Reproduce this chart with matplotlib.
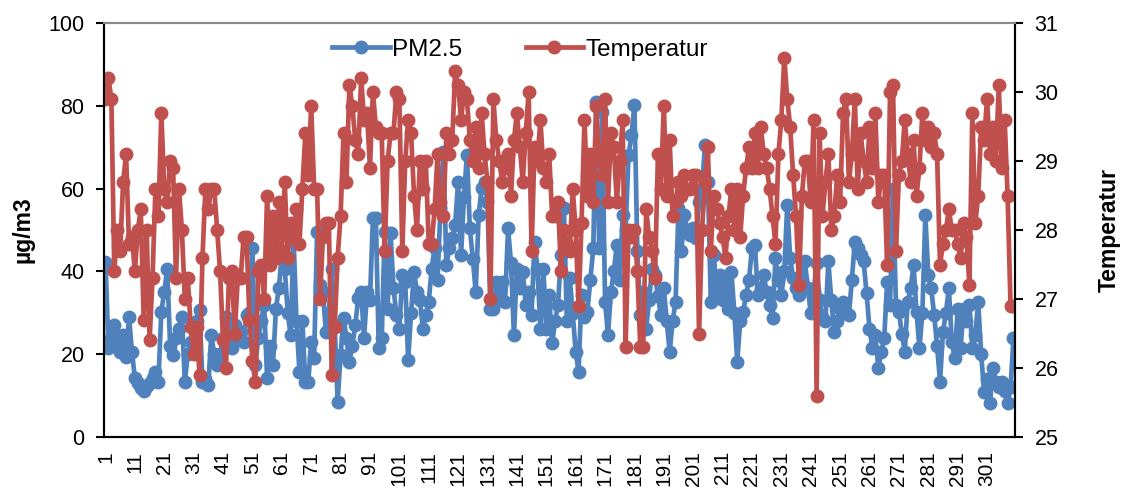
import numpy as np
import matplotlib.pyplot as plt

plt.rcParams['font.family'] = ['Liberation Sans', 'DejaVu Sans']

# PM2.5 (left axis, ug/m3), one value per day
pm25 = [42.3, 21.4, 24, 27, 23, 20.6, 24.6, 19.4, 29, 20.6,
        14.2, 13, 11.8, 11, 12.2, 13, 14.2, 15.8, 13.4, 30.3,
        35, 40.7, 22, 19.8, 24, 26.2, 29, 13.4, 20, 23,
        26.2, 28, 30.7, 13.4, 14, 12.6, 24.6, 20, 17.4, 20,
        23.8, 29, 25, 21.4, 27, 24, 25.4, 23, 29.5, 30,
        45.6, 17.4, 24, 28, 31.9, 14.2, 22, 17.4, 31, 36,
        44, 40.7, 30, 24.6, 48, 28, 15.8, 27.9, 13.4, 13.4,
        23, 19, 49.6, 36.7, 35, 25.4, 30, 40.7, 27, 8.5,
        19.8, 28.7, 24, 18.2, 22, 27, 33.5, 35.1, 24, 35.1,
        33, 52.8, 52.8, 21.4, 23.8, 49.6, 31, 49.2, 36, 29.5,
        26.2, 39.1, 37.5, 18.6, 30, 39.9, 35.1, 33, 26.2, 29.5,
        32.7, 40.7, 45.6, 38, 55.2, 68.9, 41.5, 45.6, 48, 51.2,
        61.7, 44, 58, 68.1, 50.4, 43, 35.1, 53.6, 60.1, 61.7,
        56.8, 31, 31, 37.5, 33, 37.5, 32.7, 50.4, 42, 24.6,
        40.7, 36, 39.9, 31.9, 35, 29.5, 47.2, 40.7, 26.2, 40.7,
        26.2, 34.3, 22.6, 28, 31.9, 44, 55.2, 27.9, 38.3, 30,
        20.6, 15.8, 34.3, 29, 30.3, 38, 45.6, 81, 45.6, 78.6,
        32.7, 24.6, 35.1, 40, 46.4, 38, 53.6, 50, 68.1, 72.9,
        80.2, 45, 29.5, 35, 26.2, 33, 40.7, 39.1, 34, 29.5,
        35.9, 27.9, 20.6, 28, 32.7, 55.2, 45, 53.6, 50, 48.8,
        50.4, 48, 56.8, 60, 70.5, 61.7, 32.7, 44, 35, 39.1,
        33, 37.5, 31, 39.9, 30, 18.2, 28, 30.3, 34.3, 38,
        45.6, 46.4, 34.3, 36, 39.1, 35, 31.9, 28.7, 43.2, 38,
        34.3, 40, 56, 43.2, 38.3, 36, 34.3, 38, 42.4, 36,
        30, 35, 42, 33, 29, 27.9, 42.4, 33, 25.4, 28,
        31, 32.7, 30, 29.5, 38, 47.2, 45.6, 44, 42.4, 34.7,
        26.2, 21.4, 24.6, 16.6, 20.6, 23.8, 37.5, 31.9, 60, 31.9,
        30.3, 25, 20.6, 32.7, 36, 41.5, 30.3, 21.4, 30, 53.6,
        39.1, 35.9, 29.5, 22, 13.4, 25.4, 30, 35.9, 23, 19,
        31, 21.4, 31, 28, 31.9, 21.4, 24.6, 32.7, 20, 10.9,
        14, 8.1, 16.6, 13.4, 12, 13.4, 11, 8.1, 12, 23.8]

# Temperatur (right axis)
temp = [29.9, 30.2, 29.9, 27.4, 28.0, 27.7, 28.7, 29.1, 27.8, 27.9,
        27.4, 28.0, 28.3, 26.7, 28.0, 26.4, 27.3, 28.6, 28.2, 29.7,
        28.6, 28.4, 29.0, 28.9, 27.3, 28.6, 28.0, 27.0, 27.3, 26.6,
        26.2, 26.6, 25.9, 27.6, 28.6, 28.3, 28.6, 28.6, 28.0, 27.4,
        26.4, 26.0, 27.3, 27.4, 26.5, 27.3, 27.3, 27.9, 27.9, 26.7,
        26.1, 25.8, 27.4, 27.5, 27.0, 28.5, 27.5, 28.2, 27.6, 28.4,
        27.7, 28.7, 27.6, 28.1, 27.9, 28.3, 27.8, 28.6, 29.4, 28.8,
        29.8, 28.6, 28.6, 27.0, 27.9, 28.1, 28.1, 25.9, 26.6, 27.6,
        28.2, 29.4, 28.7, 30.1, 29.8, 29.3, 29.1, 30.2, 29.6, 29.7,
        28.9, 30.0, 29.5, 29.4, 29.4, 27.7, 29.0, 29.4, 29.4, 30.0,
        29.9, 27.7, 29.0, 29.6, 29.4, 28.5, 28.0, 29.0, 28.6, 29.0,
        27.8, 27.8, 28.3, 29.1, 28.4, 28.2, 29.4, 29.1, 29.3, 30.3,
        30.1, 29.6, 30.0, 29.9, 29.3, 29.0, 29.5, 28.9, 29.7, 29.1,
        28.7, 27.0, 29.9, 29.3, 29.0, 28.7, 28.9, 29.1, 28.5, 29.3,
        29.7, 29.2, 28.7, 29.4, 30.0, 27.7, 29.2, 29.0, 29.6, 28.9,
        28.7, 29.1, 28.2, 28.2, 28.4, 27.4, 28.0, 27.8, 27.7, 28.6,
        28.0, 26.9, 28.1, 29.6, 28.5, 29.1, 28.4, 29.8, 29.0, 28.8,
        29.9, 28.4, 29.4, 29.2, 28.4, 29.0, 29.6, 26.3, 28.0, 27.9,
        28.0, 27.4, 26.3, 26.3, 28.3, 27.9, 27.7, 27.3, 29.1, 28.6,
        29.8, 28.5, 29.3, 28.2, 28.4, 28.7, 28.5, 28.8, 28.6, 28.6,
        28.8, 28.8, 26.5, 28.0, 28.7, 29.2, 27.7, 28.5, 28.3, 28.1,
        27.9, 27.6, 28.2, 28.6, 28.0, 28.6, 27.9, 28.5, 28.9, 29.2,
        28.9, 29.4, 28.9, 29.5, 29.1, 28.9, 28.6, 28.2, 27.8, 29.1,
        29.6, 30.5, 29.9, 29.5, 28.8, 28.2, 27.2, 28.5, 29.0, 29.0,
        28.4, 29.6, 25.6, 29.4, 28.2, 28.7, 29.1, 28.0, 28.2, 28.8,
        28.4, 29.7, 29.9, 28.7, 29.1, 29.9, 28.6, 29.4, 29.0, 28.7,
        29.5, 28.9, 29.7, 28.4, 28.8, 28.8, 27.5, 30.0, 30.1, 27.7,
        28.8, 29.0, 29.6, 29.1, 28.7, 29.3, 28.5, 28.9, 29.7, 29.3,
        29.5, 29.2, 29.4, 29.1, 27.5, 27.8, 28.0, 28.3, 28.0, 28.0,
        27.8, 27.6, 28.1, 27.9, 27.2, 29.7, 28.1, 28.5, 29.5, 29.3,
        29.9, 29.1, 29.5, 29.0, 30.1, 28.9, 29.6, 28.5, 26.9, 26.9]

days = np.arange(1, len(pm25) + 1)
tick_days = list(range(1, len(days) + 1, 10))[:31]

blue = "#4F81BD"
red = "#C0504D"

fig = plt.figure(figsize=(11.21, 4.93), dpi=100)
ax = fig.add_axes([0.0928, 0.1136, 0.8126, 0.8397])
ax2 = ax.twinx()

ax.plot(days, pm25, color=blue, lw=3.4, marker="o", ms=9, label="PM2.5")
ax2.plot(days, temp, color=red, lw=3.4, marker="o", ms=9, label="Temperatur")

ax.set_xlim(0.5, len(days) + 0.5)
ax.set_ylim(0, 100)
ax.set_yticks(range(0, 101, 20))
ax2.set_ylim(25, 31)
ax2.set_yticks(range(25, 32))

ax.set_xticks(tick_days)
ax.set_xticklabels([str(d) for d in tick_days], rotation=90, fontsize=15)
ax.tick_params(axis="x", length=0, pad=10)
ax.tick_params(axis="y", labelsize=15.5, direction="out", length=6, width=1.5, pad=8)
ax2.tick_params(axis="y", labelsize=15.5, direction="out", length=6, width=1.5, pad=8)

ax.set_ylabel("µg/m3", fontsize=16.5, fontweight="bold", labelpad=10)
ax2.set_ylabel("Temperatur", fontsize=16.5, fontweight="bold", labelpad=28)

for a in (ax, ax2):
    for s in a.spines.values():
        s.set_linewidth(1.5)
    a.spines["top"].set_color("#888888")

h1, l1 = ax.get_legend_handles_labels()
h2, l2 = ax2.get_legend_handles_labels()
ax2.legend(h1 + h2, l1 + l2, loc="center", bbox_to_anchor=(0.457, 0.935),
           ncol=2, frameon=False, fontsize=17.5, handlelength=2.35, handletextpad=0.12,
           columnspacing=2.6)

fig.savefig("out.png", dpi=100)
